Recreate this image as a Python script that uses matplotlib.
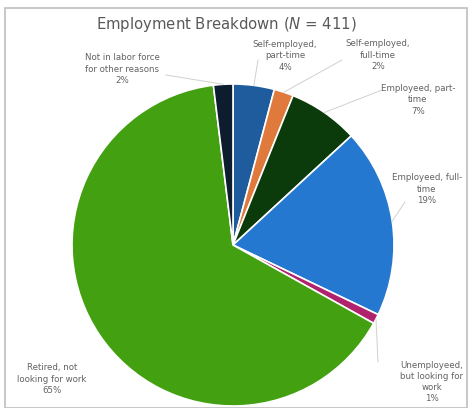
import numpy as np
import matplotlib.pyplot as plt
from matplotlib.patches import Rectangle

# employment status counts, N = 411 respondents
categories = [
    "Self-employed,\npart-time",
    "Self-employed,\nfull-time",
    "Employeed, part-\ntime",
    "Employeed, full-\ntime",
    "Unemployeed,\nbut looking for\nwork",
    "Retired, not\nlooking for work",
    "Not in labor force\nfor other reasons",
]
counts = [17, 8, 29, 78, 4, 267, 8]
pct_labels = ["4%", "2%", "7%", "19%", "1%", "65%", "2%"]
colors = ["#1f5c9e", "#e07a3c", "#0c3b0b", "#2478cf", "#b0236c", "#43a010", "#0e1c30"]

W, H = 469, 408

fig = plt.figure(figsize=(W / 100, H / 100), dpi=100)
ax = fig.add_axes([0, 0, 1, 1])
ax.set_xlim(0, W)
ax.set_ylim(0, H)
ax.set_aspect("equal")
ax.axis("off")

def py(y):
    # image rows counted from the top
    return H - y

cx, cy, r = 233, py(245), 161

wedges, _ = ax.pie(counts, colors=colors, startangle=90, counterclock=False,
                   center=(cx, cy), radius=r,
                   wedgeprops=dict(edgecolor="white", linewidth=1.2))
ax.set_xlim(0, W)
ax.set_ylim(0, H)

# label text positions (centre of the text block) and leader line ends
label_pos = [
    (285, 56), (378, 55), (418, 100), (427, 189), (432, 382), (52, 379), (122, 69),
]
leader_from = [
    (258, 60), (342, 60), (382, 90), (405, 202), (378, 362), None, (166, 75),
]

txt = "#626262"
for w, name, pct, (lx, ly), lf in zip(wedges, categories, pct_labels, label_pos, leader_from):
    ax.text(lx, py(ly), name + "\n" + pct, ha="center", va="center",
            fontsize=6.2, color=txt, linespacing=1.3)
    if lf is not None:
        mid = np.deg2rad((w.theta1 + w.theta2) / 2)
        ex, ey = cx + r * np.cos(mid), cy + r * np.sin(mid)
        ax.plot([lf[0], ex], [py(lf[1]), ey], color="#d0d0d0", lw=0.7)

ax.text(226, py(25), "Employment Breakdown ($\\mathit{N}$ = 411)", ha="center", va="center",
        fontsize=10.7, color="#595959")

ax.add_patch(Rectangle((5, py(408)), 462, 400, fill=False, edgecolor="#bdbdbd", lw=1.2))

fig.savefig("out.png", dpi=100)
